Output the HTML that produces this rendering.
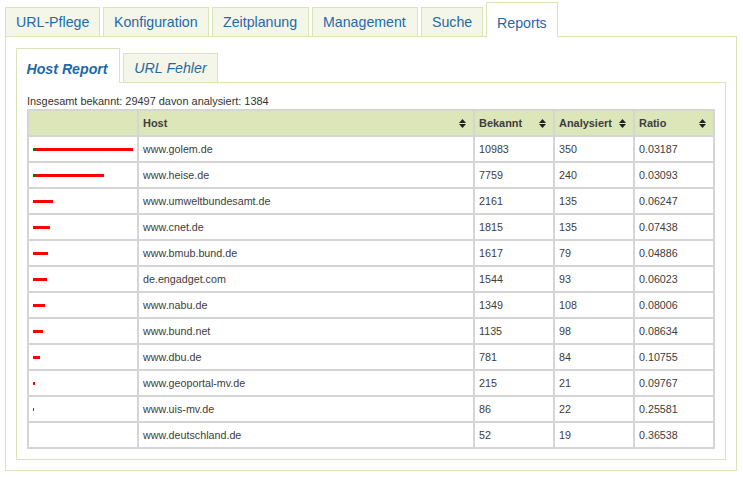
<!DOCTYPE html>
<html><head><meta charset="utf-8"><style>
*{box-sizing:border-box}
html,body{margin:0;padding:0;background:#fff;}
body{font-family:"Liberation Sans",sans-serif;width:743px;height:477px;position:relative;overflow:hidden}
.tab{position:absolute;border:1px solid #d9e5b4;border-bottom:none;background:#f5f6ea;color:#1e6aa9;font-size:14.2px;line-height:16px;text-align:left}
.tab.in{top:7px;height:29px;padding-top:6px}
.tab.act{top:2px;height:35px;background:#fff;padding-top:12px;z-index:2}
.panel{position:absolute;border:1px solid #d9e5b4;}
.itab{position:absolute;border:1px solid #d9e5b4;border-bottom:none;background:#f5f6ea;color:#1e6aa9;font-size:14.2px;line-height:16px;font-style:italic;text-align:center}
.itab.in{top:53px;height:29px;padding-top:6px;padding-right:0px}
.itab.act{top:48px;height:35px;background:#fff;padding-top:12px;padding-right:2px;z-index:2;font-weight:bold}
.info{position:absolute;left:27px;top:95px;font-size:10.93px;line-height:13px;color:#333}
table{position:absolute;left:27px;top:109px;border-collapse:separate;border-spacing:2px;background:#d5d5d5;table-layout:fixed;width:688px;font-size:10.73px;color:#3d3d3d}
td,th{padding:0 4px;height:24px;text-align:left;vertical-align:middle;background:#fff;white-space:nowrap;overflow:hidden}
th{background:#dce6b9;font-weight:bold;position:relative;font-size:10.95px}
.sort{position:absolute;right:7px;top:8px}
.bar{height:3px;background:#f00;position:relative;margin-left:0px}
.g{height:3px;background:#008000;position:absolute;left:0;top:0}
</style></head><body>
<div class="panel" style="left:5px;top:36px;width:732px;height:435px"></div>
<div class="tab in" style="left:5px;width:95px;padding-left:10px">URL-Pflege</div>
<div class="tab in" style="left:103px;width:106px;padding-left:10px">Konfiguration</div>
<div class="tab in" style="left:212px;width:97px;padding-left:10px">Zeitplanung</div>
<div class="tab in" style="left:312px;width:106px;padding-left:10px">Management</div>
<div class="tab in" style="left:421px;width:62px;padding-left:10px">Suche</div>
<div class="tab act" style="left:486px;width:72px;padding-left:10px">Reports</div>
<div class="panel" style="left:16px;top:82px;width:710px;height:378px"></div>
<div class="itab act" style="left:16px;width:104px">Host Report</div>
<div class="itab in" style="left:123px;width:95px">URL Fehler</div>
<div class="info">Insgesamt bekannt: 29497 davon analysiert: 1384</div>
<table>
<colgroup><col style="width:108px"><col style="width:334px"><col style="width:78px"><col style="width:78px"><col style="width:78px"></colgroup>
<thead><tr><th></th><th>Host<svg class="sort" width="7" height="10" viewBox="0 0 7 10"><path d="M3.5 0 L7 4 L0 4 Z M0 5 L7 5 L3.5 9 Z" fill="#1d2327"/></svg></th><th>Bekannt<svg class="sort" width="7" height="10" viewBox="0 0 7 10"><path d="M3.5 0 L7 4 L0 4 Z M0 5 L7 5 L3.5 9 Z" fill="#1d2327"/></svg></th><th>Analysiert<svg class="sort" width="7" height="10" viewBox="0 0 7 10"><path d="M3.5 0 L7 4 L0 4 Z M0 5 L7 5 L3.5 9 Z" fill="#1d2327"/></svg></th><th>Ratio<svg class="sort" width="7" height="10" viewBox="0 0 7 10"><path d="M3.5 0 L7 4 L0 4 Z M0 5 L7 5 L3.5 9 Z" fill="#1d2327"/></svg></th></tr></thead>
<tbody>
<tr><td><div class="bar" style="width:100px"><div class="g" style="width:3px"></div></div></td><td>www.golem.de</td><td>10983</td><td>350</td><td>0.03187</td></tr>
<tr><td><div class="bar" style="width:71px"><div class="g" style="width:2px"></div></div></td><td>www.heise.de</td><td>7759</td><td>240</td><td>0.03093</td></tr>
<tr><td><div class="bar" style="width:20px"><div class="g" style="width:1px"></div></div></td><td>www.umweltbundesamt.de</td><td>2161</td><td>135</td><td>0.06247</td></tr>
<tr><td><div class="bar" style="width:17px"><div class="g" style="width:1px"></div></div></td><td>www.cnet.de</td><td>1815</td><td>135</td><td>0.07438</td></tr>
<tr><td><div class="bar" style="width:15px"><div class="g" style="width:1px"></div></div></td><td>www.bmub.bund.de</td><td>1617</td><td>79</td><td>0.04886</td></tr>
<tr><td><div class="bar" style="width:14px"><div class="g" style="width:1px"></div></div></td><td>de.engadget.com</td><td>1544</td><td>93</td><td>0.06023</td></tr>
<tr><td><div class="bar" style="width:12px"><div class="g" style="width:1px"></div></div></td><td>www.nabu.de</td><td>1349</td><td>108</td><td>0.08006</td></tr>
<tr><td><div class="bar" style="width:10px"><div class="g" style="width:1px"></div></div></td><td>www.bund.net</td><td>1135</td><td>98</td><td>0.08634</td></tr>
<tr><td><div class="bar" style="width:7px"><div class="g" style="width:1px"></div></div></td><td>www.dbu.de</td><td>781</td><td>84</td><td>0.10755</td></tr>
<tr><td><div class="bar" style="width:2px"><div class="g" style="width:0px"></div></div></td><td>www.geoportal-mv.de</td><td>215</td><td>21</td><td>0.09767</td></tr>
<tr><td><div class="bar" style="width:1px"><div class="g" style="width:0px"></div></div></td><td>www.uis-mv.de</td><td>86</td><td>22</td><td>0.25581</td></tr>
<tr><td><div class="bar" style="width:0px"><div class="g" style="width:0px"></div></div></td><td>www.deutschland.de</td><td>52</td><td>19</td><td>0.36538</td></tr>
</tbody></table>
</body></html>
